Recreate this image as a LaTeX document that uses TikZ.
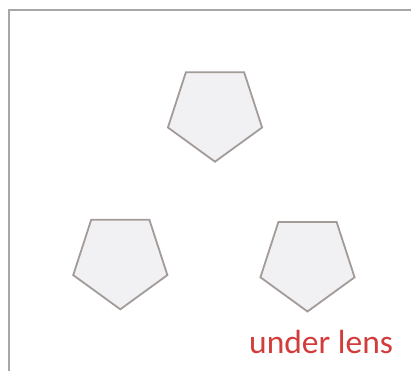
\documentclass[tikz,border=0pt]{standalone}
\usepackage{fontspec}
\setmainfont{Carlito}
\usetikzlibrary{shapes.geometric}
\definecolor{framegray}{HTML}{A8A6A6}
\definecolor{pentline}{HTML}{A39B98}
\definecolor{pentfill}{HTML}{F1F1F3}
\definecolor{lensred}{HTML}{D23C3A}
\begin{document}
\begin{tikzpicture}[x=1pt,y=1pt,
  pent/.style={regular polygon, regular polygon sides=5, shape border rotate=180,
    draw=pentline, fill=pentfill, line width=1.8pt, inner sep=0pt, outer sep=0pt,
    minimum size=99pt}]
\useasboundingbox (0,0) rectangle (411,-370);
\fill[white] (0,0) rectangle (411,-370);
\draw[framegray, line width=2pt] (411,-10) -- (9,-10) -- (9,-371);
\node[pent] (ptop) at (215,-112.2) {};
\node[pent] (pleft) at (120.3,-259.8) {};
\node[pent] (pright) at (307.5,-262) {};
\node[text=lensred, font=\fontsize{33.5}{40}\selectfont, anchor=base west, inner sep=0pt] (lbl) at (249,-353) {under lens};
\end{tikzpicture}
\end{document}
